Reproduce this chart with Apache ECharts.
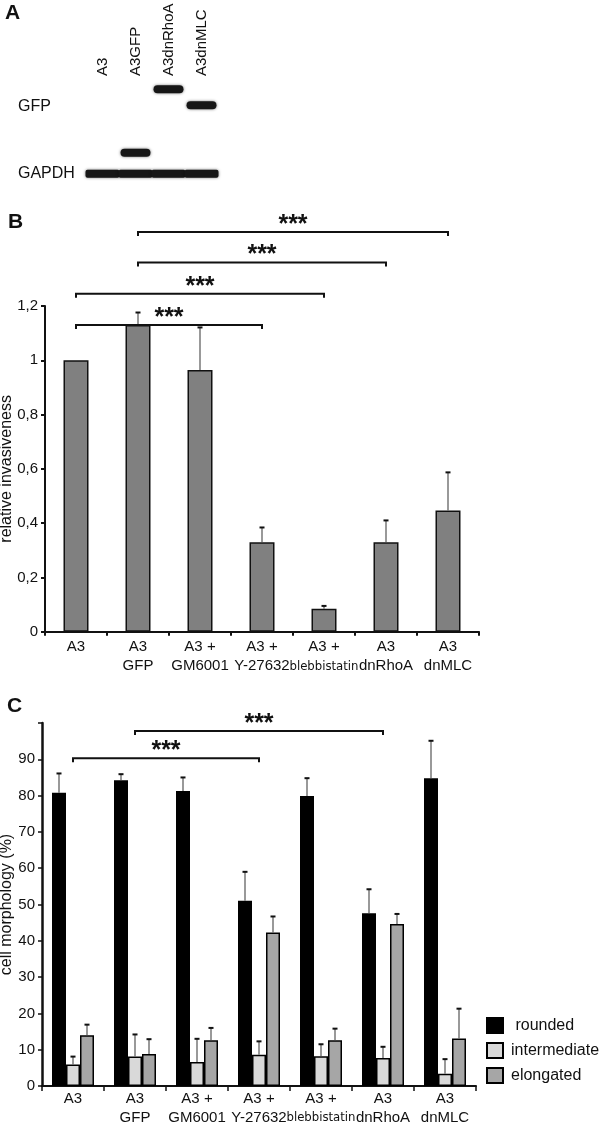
<!DOCTYPE html>
<html><head><meta charset="utf-8">
<script src="https://cdn.jsdelivr.net/npm/echarts@6/dist/echarts.min.js"></script>
<style>html,body{margin:0;padding:0;background:#fff}#c{width:600px;height:1124px}</style>
</head><body><div id="c"></div>
<script>
// ---------- Panel A : western blot ----------
const lanes = ['A3', 'A3GFP', 'A3dnRhoA', 'A3dnMLC'];
// [laneIndex, migration distance]
const gfpBands = [[1, 72.7], [2, 9.3], [3, 25.3]];
const gapdhBands = [[0, 93.8], [1, 93.8], [2, 93.8], [3, 93.8]];
const blotRowNames = ['GFP', 'GAPDH'];
const blotRowPos = [27, 94];

// ---------- Panel B ----------
const categories = ['A3', 'A3\nGFP', 'A3 +\nGM6001', 'A3 +\nY-27632', 'A3 +\nblebbistatin', 'A3\ndnRhoA', 'A3\ndnMLC'];
const invasiveness = [1.0, 1.13, 0.964, 0.33, 0.085, 0.33, 0.447];
const invasivenessErr = [0, 0.046, 0.157, 0.054, 0.01, 0.08, 0.14];
const yTicksB = [0, 0.2, 0.4, 0.6, 0.8, 1, 1.2];
// [fromIndex, toIndex, level]
const bracketsB = [[0, 3, 1.13], [0, 4, 1.245], [1, 5, 1.36], [1, 6, 1.473]];

// ---------- Panel C ----------
const rounded = [80.8, 84.2, 81.3, 51.0, 79.9, 47.6, 84.8];
const roundedErr = [5.3, 1.7, 3.7, 8.0, 4.9, 6.6, 10.3];
const intermediate = [5.9, 8.1, 6.6, 8.6, 8.2, 7.7, 3.4];
const intermediateErr = [2.2, 6.1, 6.4, 3.7, 3.3, 3.1, 4.0];
const elongated = [14.0, 8.8, 12.6, 42.3, 12.6, 44.6, 13.1];
const elongatedErr = [2.9, 4.1, 3.4, 4.4, 3.2, 2.8, 8.2];
const bracketsC = [[0, 3, 90.3], [1, 5, 97.8]];

const FONT = "'Liberation Sans', Arial, sans-serif";
const INK = '#111';

const chart = echarts.init(document.getElementById('c'), null, {renderer: 'canvas'});

function errRender(offset) {
  return function (params, api) {
    const i = api.value(0), v = api.value(1), e = api.value(2);
    if (!e) return;
    const p0 = api.coord([i, v]);
    const p1 = api.coord([i, v + e]);
    const x = p0[0] + offset;
    return {type: 'group', children: [
      {type: 'line', shape: {x1: x, y1: p0[1], x2: x, y2: p1[1]}, style: {stroke: '#555', lineWidth: 1.2}},
      {type: 'line', shape: {x1: x - 2.5, y1: p1[1], x2: x + 2.5, y2: p1[1]}, style: {stroke: INK, lineWidth: 2}}
    ]};
  };
}
function bracketRender(params, api) {
  const a = api.coord([api.value(0), api.value(2)]);
  const b = api.coord([api.value(1), api.value(2)]);
  return {type: 'group', children: [
    {type: 'polyline', shape: {points: [[a[0], a[1] + 4], [a[0], a[1]], [b[0], b[1]], [b[0], b[1] + 4]]},
     style: {stroke: INK, lineWidth: 2, fill: null}},
    {type: 'text', x: (a[0] + b[0]) / 2, y: a[1] - 7,
     style: {text: '***', font: 'bold 25px ' + FONT, fill: INK, align: 'center', verticalAlign: 'middle'}}
  ]};
}
function bandRender(full) {
  return function (params, api) {
    const c = api.coord([api.value(0), api.value(1)]);
    const w = api.size([1, 0])[0];
    const bw = full ? w + 1 : w - 3;
    return {type: 'rect', shape: {x: c[0] - bw / 2, y: c[1] - 4, width: bw, height: 8, r: full ? 2 : 4},
      style: {fill: '#161616', shadowBlur: 3, shadowColor: 'rgba(0,0,0,0.55)'}};
  };
}
function withIdx(vals, errs) { return vals.map((v, i) => [i, v, errs[i]]); }

const xLabelRich = {n: {fontFamily: "'Liberation Sans Narrow', 'DejaVu Sans Condensed', " + FONT, fontSize: 13, color: INK}};
function xLabelFmt(v) {
  return v.indexOf('blebbistatin') >= 0 ? 'A3 +\n{n|blebbistatin}' : v;
}

const option = {
  backgroundColor: '#fff',
  animation: false,
  textStyle: {fontFamily: FONT, color: INK},
  graphic: [
    {type: 'text', left: 5, top: 3, style: {text: 'A', font: 'bold 21px ' + FONT, fill: INK}},
    {type: 'text', left: 8, top: 212, style: {text: 'B', font: 'bold 21px ' + FONT, fill: INK}},
    {type: 'text', left: 7, top: 696, style: {text: 'C', font: 'bold 21px ' + FONT, fill: INK}}
  ],
  grid: [
    {left: 86, width: 132, top: 80, height: 110, outerBoundsMode: 'none'},
    {left: 45, width: 434, top: 306, height: 325.7, outerBoundsMode: 'none'},
    {left: 42, width: 434, top: 723, height: 363, outerBoundsMode: 'none'}
  ],
  legend: {
    data: ['rounded', 'intermediate', 'elongated'],
    orient: 'vertical', left: 486, top: 1017, padding: 0,
    itemWidth: 16, itemHeight: 15, itemGap: 8,
    icon: 'rect',
    formatter: n => n === 'rounded' ? ' rounded' : n,
    textStyle: {fontSize: 16, color: INK, fontFamily: FONT, padding: [0, 0, 0, 3]}
  },
  xAxis: [
    {gridIndex: 0, type: 'category', data: lanes, position: 'top',
     axisLine: {show: false}, axisTick: {show: false},
     axisLabel: {rotate: 90, fontSize: 15, color: INK, margin: 4, interval: 0}},
    {gridIndex: 1, type: 'category', data: categories,
     axisLine: {lineStyle: {color: INK, width: 2}},
     axisTick: {show: true, length: 4, lineStyle: {color: INK, width: 2}},
     axisLabel: {fontSize: 15, color: INK, margin: 6, lineHeight: 19, interval: 0, formatter: xLabelFmt, rich: xLabelRich}},
    {gridIndex: 2, type: 'category', data: categories,
     axisLine: {lineStyle: {color: INK, width: 2}},
     axisTick: {show: true, length: 5, lineStyle: {color: INK, width: 1.5}},
     axisLabel: {fontSize: 15, color: INK, margin: 3, lineHeight: 19, interval: 0, formatter: xLabelFmt, rich: xLabelRich}}
  ],
  yAxis: [
    {gridIndex: 0, type: 'value', inverse: true, min: 0, max: 110, show: false},
    {gridIndex: 1, type: 'value', min: 0, max: 1.2, interval: 0.2,
     name: 'relative invasiveness', nameLocation: 'middle', nameGap: 30, nameMoveOverlap: false,
     nameTextStyle: {fontSize: 16, color: INK, fontFamily: FONT},
     axisLine: {show: true, lineStyle: {color: INK, width: 2}},
     axisTick: {show: true, length: 4, lineStyle: {color: INK, width: 2}},
     splitLine: {show: false},
     axisLabel: {fontSize: 15, color: INK, margin: 7,
       formatter: v => String(+v.toFixed(1)).replace('.', ',')}},
    {gridIndex: 2, type: 'value', min: 0, max: 100, interval: 10,
     name: 'cell morphology (%)', nameLocation: 'middle', nameGap: 27, nameMoveOverlap: false,
     nameTextStyle: {fontSize: 16, color: INK, fontFamily: FONT},
     axisLine: {show: true, lineStyle: {color: INK, width: 2.5}},
     axisTick: {show: true, length: 4, lineStyle: {color: INK, width: 1.5}},
     splitLine: {show: false},
     axisLabel: {fontSize: 15, color: INK, margin: 7, formatter: v => v === 100 ? '' : String(v)}}
  ],
  series: [
    // Panel A
    {type: 'custom', xAxisIndex: 0, yAxisIndex: 0, data: gfpBands, renderItem: bandRender(false), encode: {x: 0, y: 1}, silent: true},
    {type: 'custom', xAxisIndex: 0, yAxisIndex: 0, data: gapdhBands, renderItem: bandRender(true), encode: {x: 0, y: 1}, silent: true},
    {type: 'custom', xAxisIndex: 0, yAxisIndex: 0, data: blotRowPos.map((p, i) => [0, p, i]), encode: {x: 0, y: 1}, silent: true,
     renderItem: (params, api) => {
       const c = api.coord([0, api.value(1)]);
       const w = api.size([1, 0])[0];
       return {type: 'text', x: c[0] - w / 2 - 68, y: c[1],
         style: {text: blotRowNames[api.value(2)], font: '16px ' + FONT, fill: INK, align: 'left', verticalAlign: 'middle'}};
     }},
    // Panel B
    {type: 'bar', name: 'invasiveness', xAxisIndex: 1, yAxisIndex: 1, data: invasiveness, barWidth: 25,
     itemStyle: {color: '#808080', borderColor: INK, borderWidth: 1.5}},
    {type: 'custom', xAxisIndex: 1, yAxisIndex: 1, data: withIdx(invasiveness, invasivenessErr),
     renderItem: errRender(0), encode: {x: 0, y: 1}, z: 5},
    {type: 'custom', xAxisIndex: 1, yAxisIndex: 1, data: bracketsB, renderItem: bracketRender,
     encode: {x: [0, 1], y: 2}, clip: false, z: 5},
    // Panel C
    {type: 'bar', name: 'rounded', xAxisIndex: 2, yAxisIndex: 2, data: rounded, barWidth: 14, barGap: '0%',
     itemStyle: {color: '#000', borderColor: '#000', borderWidth: 1.5}},
    {type: 'bar', name: 'intermediate', xAxisIndex: 2, yAxisIndex: 2, data: intermediate, barWidth: 14, barGap: '0%',
     itemStyle: {color: '#d9d9d9', borderColor: '#000', borderWidth: 1.5}},
    {type: 'bar', name: 'elongated', xAxisIndex: 2, yAxisIndex: 2, data: elongated, barWidth: 14, barGap: '0%',
     itemStyle: {color: '#a6a6a6', borderColor: '#000', borderWidth: 1.5}},
    {type: 'custom', xAxisIndex: 2, yAxisIndex: 2, data: withIdx(rounded, roundedErr), renderItem: errRender(-14), encode: {x: 0, y: 1}, z: 5},
    {type: 'custom', xAxisIndex: 2, yAxisIndex: 2, data: withIdx(intermediate, intermediateErr), renderItem: errRender(0), encode: {x: 0, y: 1}, z: 5},
    {type: 'custom', xAxisIndex: 2, yAxisIndex: 2, data: withIdx(elongated, elongatedErr), renderItem: errRender(14), encode: {x: 0, y: 1}, z: 5},
    {type: 'custom', xAxisIndex: 2, yAxisIndex: 2, data: bracketsC, renderItem: bracketRender,
     encode: {x: [0, 1], y: 2}, clip: false, z: 5}
  ]
};
chart.setOption(option);
</script>
</body></html>
